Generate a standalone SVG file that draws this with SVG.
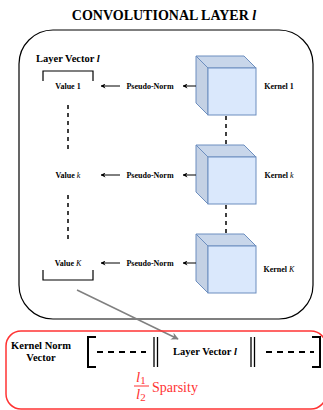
<svg xmlns="http://www.w3.org/2000/svg" width="323" height="410" viewBox="0 0 323 410">
<defs>
<style>
.b{font-family:"Liberation Serif","Times New Roman",serif;font-weight:bold;fill:#000;text-anchor:middle}
.st{text-anchor:start}
.s{font-size:8px}
.m{font-size:10.5px}
.cf{fill:#dae8fc;stroke:#6c8ebf;stroke-width:1}
.cs{fill:#c4d1e4;stroke:#6c8ebf;stroke-width:1}
.ct{fill:#c8d6ea;stroke:#6c8ebf;stroke-width:1}
.dash{stroke:#000;stroke-width:1.5;stroke-dasharray:4,4;fill:none}
.arr{stroke:#000;stroke-width:1;fill:none;marker-end:url(#ah)}
.red{font-family:"Liberation Serif","Times New Roman",serif;fill:#ff3333}
</style>
<marker id="ah" viewBox="0 0 10 10" refX="9" refY="5" markerWidth="5" markerHeight="5" orient="auto"><path d="M0,0 L10,5 L0,10 L3,5 Z" fill="#000"/></marker>
<marker id="ahg" viewBox="0 0 10 10" refX="9" refY="5" markerWidth="5" markerHeight="5" orient="auto"><path d="M0,0 L10,5 L0,10 L3,5 Z" fill="#808080"/></marker>
</defs>
<rect width="323" height="410" fill="#fff"/>
<text class="b" x="164" y="20" font-size="14">CONVOLUTIONAL LAYER <tspan font-style="italic">l</tspan></text>
<g id="layer">
<rect x="19" y="30" width="294" height="289" rx="34" ry="34" fill="none" stroke="#000" stroke-width="1.2"/>
</g>
<g id="layerVector">
<text class="b m st" x="36" y="62">Layer Vector <tspan font-style="italic">l</tspan></text>
<path d="M43,81 V71 H93 V81" fill="none" stroke="#000" stroke-width="1.2"/>
<path d="M43,270 V280 H93 V270" fill="none" stroke="#000" stroke-width="1.2"/>
</g>
<g id="value1"><text class="b s" x="68" y="89">Value 1</text></g>
<g id="valuek"><text class="b s" x="68" y="178">Value <tspan font-style="italic" font-weight="normal">k</tspan></text></g>
<g id="valueK"><text class="b s" x="68" y="266">Value <tspan font-style="italic" font-weight="normal">K</tspan></text></g>
<g id="pn1"><text class="b s" x="150" y="89">Pseudo-Norm</text></g>
<g id="pnk"><text class="b s" x="150" y="178">Pseudo-Norm</text></g>
<g id="pnK"><text class="b s" x="150" y="266">Pseudo-Norm</text></g>
<g id="kernel1">
<polygon class="ct" points="196,56 244,56 256,68 208,68"/>
<polygon class="cs" points="196,56 208,68 208,115 196,103"/>
<rect class="cf" x="208" y="68" width="48" height="47"/>
<text class="b s" x="279" y="89">Kernel 1</text>
</g>
<g id="kernelk">
<polygon class="ct" points="196,145 244,145 256,157 208,157"/>
<polygon class="cs" points="196,145 208,157 208,204 196,192"/>
<rect class="cf" x="208" y="157" width="48" height="47"/>
<text class="b s" x="279" y="178">Kernel <tspan font-style="italic" font-weight="normal">k</tspan></text>
</g>
<g id="kernelK">
<polygon class="ct" points="196,234 244,234 256,246 208,246"/>
<polygon class="cs" points="196,234 208,246 208,293 196,281"/>
<rect class="cf" x="208" y="246" width="48" height="47"/>
<text class="b s" x="279" y="272">Kernel <tspan font-style="italic" font-weight="normal">K</tspan></text>
</g>
<g id="connectors">
<line class="arr" x1="120" y1="86" x2="101" y2="86"/>
<line class="arr" x1="120" y1="175" x2="101" y2="175"/>
<line class="arr" x1="120" y1="263" x2="101" y2="263"/>
<line class="arr" x1="196" y1="86" x2="183" y2="86"/>
<line class="arr" x1="196" y1="175" x2="183" y2="175"/>
<line class="arr" x1="196" y1="263" x2="183" y2="263"/>
<line class="dash" x1="68" y1="105" x2="68" y2="153"/>
<line class="dash" x1="68" y1="195" x2="68" y2="243"/>
<line class="dash" x1="226" y1="116" x2="226" y2="145"/>
<line class="dash" x1="226" y1="205" x2="226" y2="234"/>
<line x1="77" y1="290" x2="178" y2="339" stroke="#808080" stroke-width="1.5" marker-end="url(#ahg)"/>
</g>
<g id="kernelNormVector">
<rect x="6" y="331" width="320" height="78" rx="15" ry="15" fill="none" stroke="#ff3333" stroke-width="1.5"/>
<text class="b m" x="41" y="349">Kernel Norm</text>
<text class="b m" x="41" y="361">Vector</text>
<path d="M96,337 H88 V367 H96" fill="none" stroke="#000" stroke-width="2"/>
<line x1="97" y1="352" x2="146" y2="352" stroke="#000" stroke-width="2" stroke-dasharray="6,5"/>
<line x1="154" y1="337" x2="154" y2="367" stroke="#000" stroke-width="1.3"/>
<line x1="157.5" y1="337" x2="157.5" y2="367" stroke="#000" stroke-width="1.3"/>
<text class="b m" x="205" y="355">Layer Vector <tspan font-style="italic">l</tspan></text>
<line x1="251" y1="337" x2="251" y2="367" stroke="#000" stroke-width="1.3"/>
<line x1="254.5" y1="337" x2="254.5" y2="367" stroke="#000" stroke-width="1.3"/>
<line x1="266" y1="352" x2="314" y2="352" stroke="#000" stroke-width="2" stroke-dasharray="6,5"/>
<path d="M312,337 H320 V367 H312" fill="none" stroke="#000" stroke-width="2"/>
<text class="red" x="136" y="382" font-size="15" font-style="italic">l<tspan font-style="normal" font-size="11" dy="2">1</tspan></text>
<line x1="134" y1="386" x2="149" y2="386" stroke="#ff3333" stroke-width="1"/>
<text class="red" x="136" y="399" font-size="15" font-style="italic">l<tspan font-style="normal" font-size="11" dy="2">2</tspan></text>
<text class="red" x="152" y="392" font-size="14">Sparsity</text>
</g>
</svg>
